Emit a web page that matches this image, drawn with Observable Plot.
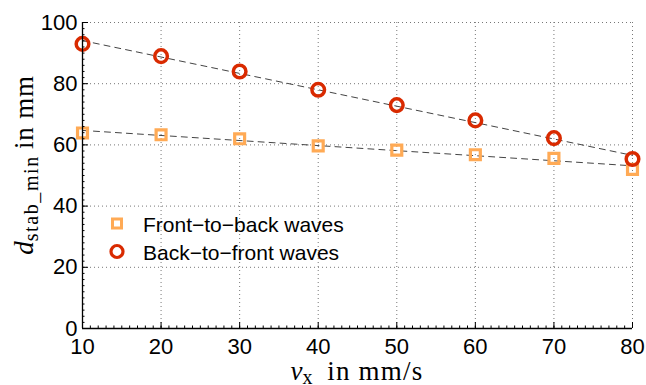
<!DOCTYPE html>
<html>
<head>
<meta charset="utf-8">
<script src="https://cdn.jsdelivr.net/npm/d3@7"></script>
<script src="https://cdn.jsdelivr.net/npm/@observablehq/plot@0.6"></script>
<style>
  html, body { margin: 0; padding: 0; background: #fff; }
  #chart { width: 646px; height: 385px; }
  svg text { font-family: "Liberation Sans", Arial, sans-serif; }
</style>
</head>
<body>
<div id="chart"></div>
<script>
// Feed speed (mm/s) and minimum stable distance (mm) for both wave directions
const speeds = [10, 20, 30, 40, 50, 60, 70, 80];
const frontToBack = [63.9, 63.3, 62.0, 59.7, 58.3, 56.8, 55.6, 52.0];
const backToFront = [93.0, 89.0, 84.0, 78.0, 73.0, 68.0, 62.2, 55.4];
const seriesNames = ["Front\u2212to\u2212back waves", "Back\u2212to\u2212front waves"];
const xTicks = [10, 20, 30, 40, 50, 60, 70, 80];
const yTicks = [0, 20, 40, 60, 80, 100];
const xMinor = d3.range(10, 80.01, 1);
const yMinor = d3.range(0, 100.01, 2);

const colors = { square: "#ffaa55", circle: "#d92a00" };

const ftb = speeds.map((v, i) => ({ v, d: frontToBack[i] }));
const btf = speeds.map((v, i) => ({ v, d: backToFront[i] }));

const width = 646, height = 385;
const margin = { top: 22, right: 14, bottom: 57, left: 82 };

const dotted = { stroke: "#777", strokeOpacity: 1, strokeDasharray: "1,3", strokeWidth: 1 };
const fit = { stroke: "#444", strokeWidth: 1, strokeDasharray: "6,5", ci: 0 };

const plot = Plot.plot({
  width, height,
  marginTop: margin.top, marginRight: margin.right,
  marginBottom: margin.bottom, marginLeft: margin.left,
  style: { fontFamily: "Liberation Sans, Arial, sans-serif", fontSize: "22px", color: "#000", background: "#fff" },
  x: { domain: [10, 80], label: null },
  y: { domain: [0, 100], label: null },
  marks: [
    Plot.gridX(xTicks.slice(1), dotted),
    Plot.gridY(yTicks.slice(1), dotted),
    // least-squares fit lines
    Plot.linearRegressionY(ftb, { x: "v", y: "d", ...fit }),
    Plot.linearRegressionY(btf, { x: "v", y: "d", ...fit }),
    // measurements
    Plot.dot(ftb, { x: "v", y: "d", symbol: "square", r: 5.6, stroke: colors.square, strokeWidth: 3.2, fill: "none" }),
    Plot.dot(btf, { x: "v", y: "d", symbol: "circle", r: 6.3, stroke: colors.circle, strokeWidth: 3.5, fill: "none" }),
    // axes: inward-pointing major and minor ticks
    Plot.axisX(xMinor, { tickSize: -2.5, text: null, label: null, stroke: "#000" }),
    Plot.axisY(yMinor, { tickSize: -2.5, text: null, label: null, stroke: "#000" }),
    Plot.axisX(xTicks, { tickSize: -6, tickPadding: 16, fontSize: 22, label: null, stroke: "#000", fill: "#000" }),
    Plot.axisY(yTicks, { tickSize: -6, tickPadding: 11, fontSize: 22, label: null, stroke: "#000", fill: "#000" }),
    Plot.ruleY([0], { stroke: "#000", strokeWidth: 1.3 }),
    Plot.ruleX([10], { stroke: "#000", strokeWidth: 1.3 })
  ]
});

document.getElementById("chart").appendChild(plot);

// axis titles and legend
const svg = d3.select(plot);
const serif = "Liberation Serif, Times New Roman, serif";

const yl = svg.append("text")
  .attr("transform", "translate(33,165) rotate(-90)")
  .attr("text-anchor", "middle")
  .style("font-family", serif)
  .style("font-size", "27px")
  .attr("fill", "#000");
yl.append("tspan").style("font-style", "italic").text("d");
yl.append("tspan").attr("dy", 5).style("font-size", "20px").style("letter-spacing", "1.6px").text("stab_min");
yl.append("tspan").attr("dy", -5).style("letter-spacing", "0.8px").text("\u2009in mm");

const xl = svg.append("text")
  .attr("x", 357).attr("y", 380)
  .attr("text-anchor", "middle")
  .style("font-family", serif)
  .style("font-size", "27px")
  .attr("fill", "#000");
xl.append("tspan").style("font-style", "italic").text("v");
xl.append("tspan").attr("dy", 4).style("font-size", "20px").text("x");
xl.append("tspan").attr("dy", -4).style("letter-spacing", "1.2px").text("\u2002in mm/s");

const legend = svg.append("g").attr("text-anchor", "start");
const items = [
  { name: seriesNames[0], sym: "square", color: colors.square },
  { name: seriesNames[1], sym: "circle", color: colors.circle }
];
items.forEach((it, i) => {
  const cy = 223.5 + i * 28;
  if (it.sym === "square") {
    legend.append("rect").attr("x", 112.5).attr("y", cy - 4.5).attr("width", 9).attr("height", 9)
      .attr("fill", "none").attr("stroke", it.color).attr("stroke-width", 3);
  } else {
    legend.append("circle").attr("cx", 117).attr("cy", cy).attr("r", 6)
      .attr("fill", "none").attr("stroke", it.color).attr("stroke-width", 3.2);
  }
  legend.append("text").attr("x", 143).attr("y", cy + 8)
    .attr("text-anchor", "start")
    .style("font-size", "21px").attr("fill", "#000").text(it.name);
});
</script>
</body>
</html>
